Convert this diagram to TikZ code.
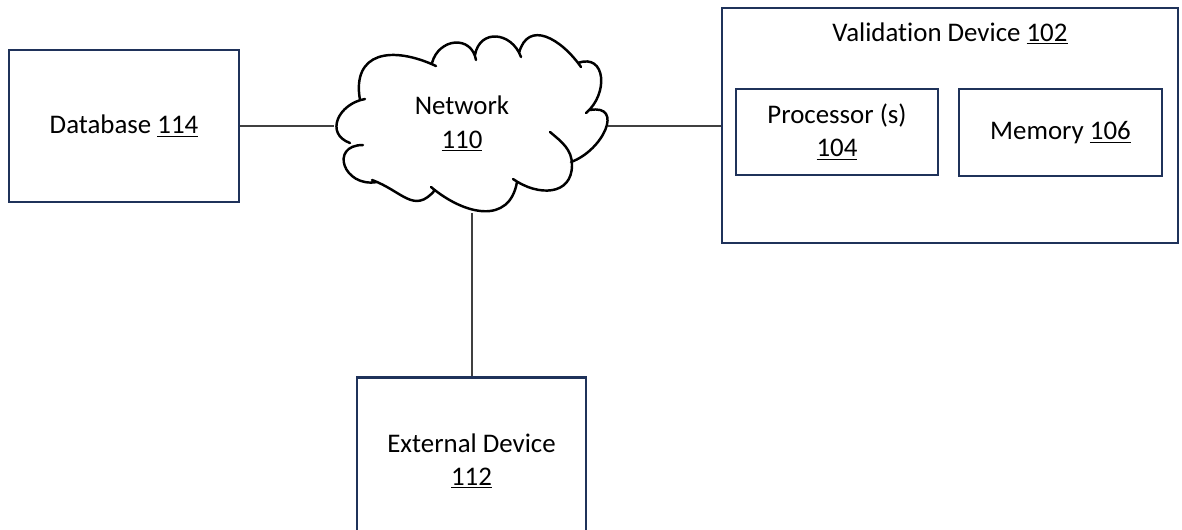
\documentclass[tikz,border=0pt]{standalone}
\usepackage{fontspec}
\setmainfont{Carlito}[Ligatures=NoCommon]
\definecolor{navy}{RGB}{31,50,90}
\definecolor{wire}{RGB}{64,64,64}
\begin{document}
\begin{tikzpicture}[x=0.02cm,y=0.02cm,
  font=\fontsize{15.3}{18.8}\selectfont,
  box/.style={draw=navy,line width=1.3pt,rectangle,align=center,inner sep=0pt},
  wireline/.style={draw=wire,line width=0.7pt},
  cloudline/.style={draw=black,line width=1.4pt,line cap=round}]
\useasboundingbox (0,0) rectangle (1182,-529);
% boxes
\node[box,minimum width=4.6cm,minimum height=3.04cm] (db) at (124,-126) {Database \underline{114}};
\node[box,minimum width=9.12cm,minimum height=4.7cm] (val) at (950,-125.5) {};
\node[anchor=base] (valt) at (950,-41) {Validation Device \underline{102}};
\node[box,minimum width=4.04cm,minimum height=1.72cm] (proc) at (837,-132) {Processor (s)\\\underline{104}};
\node[box,minimum width=4.06cm,minimum height=1.74cm] (mem) at (1060.5,-132.5) {Memory \underline{106}};
\node[box,minimum width=4.58cm,minimum height=3.34cm] (ext) at (471.5,-461) {External Device\\\underline{112}};
% cloud
\draw[cloudline]
 (360,-100) to[out=100,in=155,looseness=1.5] (436,-66)
 (432,-63) to[out=75,in=100,looseness=1.5] (476,-60)
 (475,-55) to[out=80,in=110,looseness=1.5] (521,-57)
 (519,-53) to[out=75,in=125,looseness=1.4] (581,-67)
 (578,-63) to[out=20,in=40,looseness=1.5] (586,-113)
 (590,-110) to[out=10,in=20,looseness=1.6] (571,-162)
 (550,-132) to[out=-40,in=90,looseness=1] (572,-165) to[out=-90,in=-35,looseness=1.3] (513,-179)
 (517,-182) to[out=-100,in=-40,looseness=1.3] (431,-187)
 (435,-190) to[out=-130,in=-20,looseness=1.3] (372,-180)
 (377,-182) to[out=190,in=180,looseness=2.2] (363,-145)
 (350,-143) to[out=160,in=190,looseness=1.5] (365,-99);
\node[align=center] (net) at (462,-124) {Network\\\underline{110}};
\coordinate (cl) at (334,-126);
\coordinate (cr) at (608,-126);
\coordinate (cb) at (472,-213);
% connectors
\draw[wireline] (db.east) -- (cl);
\draw[wireline] (cr) -- (val.west |- cr);
\draw[wireline] (cb) -- (ext.north -| cb);
\end{tikzpicture}
\end{document}
